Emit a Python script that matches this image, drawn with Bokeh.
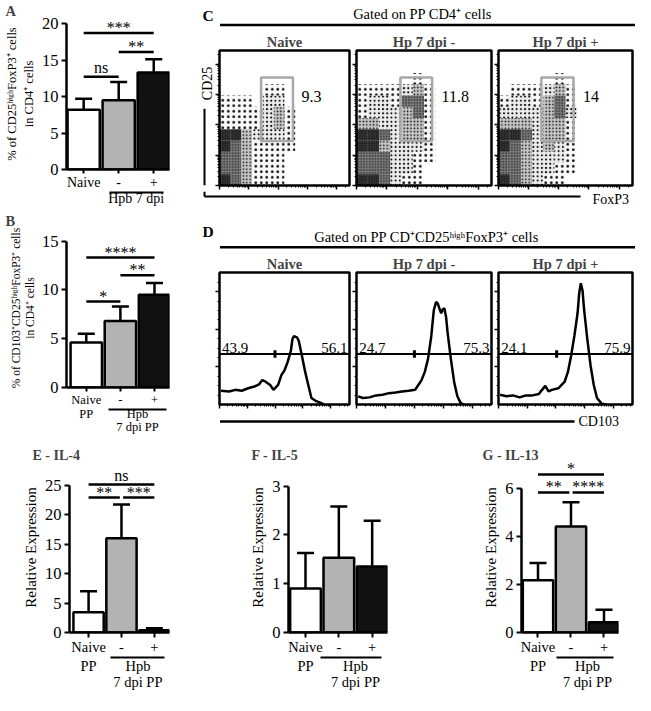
import math
from bokeh.plotting import figure
from bokeh.models import (Range1d, FixedTicker, ColumnDataSource, Whisker,
                          TeeHead, LinearAxis)
from bokeh.layouts import row, column
from bokeh.embed import file_html
from bokeh.resources import INLINE
from bokeh.core.properties import value

FONT = "Liberation Serif"

# ---------------- bar chart data ----------------
groups = ["Naive", "-", "+"]
bar_colors = ["#ffffff", "#b3b3b3", "#111111"]

a_mean = [8.2, 9.5, 13.3]
a_err = [1.5, 2.5, 1.8]
a_sig_x0 = [1, 2, 1]
a_sig_x1 = [3, 3, 2]
a_sig_y = [18.7, 16.1, 12.7]
a_sig_text = ["***", "**", "ns"]
a_group_labels = {2.5: "Hpb 7 dpi"}

b_mean = [4.6, 6.8, 9.5]
b_err = [0.9, 1.5, 1.2]
b_sig_x0 = [1, 2, 1]
b_sig_x1 = [3, 3, 2]
b_sig_y = [13.3, 11.5, 8.8]
b_sig_text = ["****", "**", "*"]
pp_group_labels = {1: "PP", 2.5: "Hpb\n7 dpi PP"}

e_mean = [3.45, 16.0, 0.4]
e_err = [3.55, 5.7, 0.3]
e_sig_x0 = [1, 1, 2.05]
e_sig_x1 = [3, 1.95, 3]
e_sig_y = [25.1, 22.9, 22.9]
e_sig_text = ["ns", "**", "***"]

f_mean = [0.9, 1.53, 1.35]
f_err = [0.73, 1.05, 0.94]

g_mean = [2.18, 4.41, 0.43]
g_err = [0.71, 1.01, 0.52]
g_sig_x0 = [1, 1, 2.05]
g_sig_x1 = [3, 1.95, 3]
g_sig_y = [6.58, 5.83, 5.83]
g_sig_text = ["*", "**", "****"]

# ---------------- flow cytometry (panel C) ----------------
c_headers = ["Naive", "Hp 7 dpi -", "Hp 7 dpi +"]
c_gate_pct = ["9.3", "11.8", "14"]
c_gate_x0 = [32.0, 32.5, 32.0]
c_gate_x1 = [56.5, 56.0, 56.0]
c_gate_y0 = [33.0, 33.0, 33.0]
c_gate_y1 = [80.0, 80.0, 80.0]
# dot density read per cell (12 x 12 grid, top row first, 0 = empty .. 5 = saturated)
c_density_naive = [
    [0, 0, 0, 0, 0, 0, 0, 0],
    [0, 0, 0, 0, 0, 0, 0, 0],
    [0, 0, 0, 0, 0, 0, 0, 0],
    [0, 0, 0, 0, 1, 1, 0, 0],
    [1, 1, 1, 0, 2, 2, 0, 0],
    [1, 1, 1, 1, 2, 3, 1, 0],
    [1, 1, 1, 1, 2, 3, 1, 0],
    [5, 5, 3, 2, 2, 2, 1, 0],
    [5, 4, 3, 1, 1, 1, 1, 0],
    [4, 4, 3, 1, 1, 1, 0, 0],
    [4, 4, 3, 1, 1, 1, 0, 0],
    [5, 4, 3, 1, 1, 1, 0, 0],
]
c_density_hp_minus = [
    [0, 0, 0, 0, 0, 0, 0, 0],
    [0, 0, 0, 0, 0, 0, 0, 0],
    [0, 0, 0, 0, 0, 1, 0, 0],
    [1, 1, 1, 1, 2, 3, 1, 0],
    [1, 2, 2, 1, 4, 4, 1, 0],
    [1, 2, 2, 2, 3, 4, 1, 0],
    [3, 3, 2, 2, 3, 3, 1, 0],
    [5, 5, 4, 2, 3, 3, 1, 0],
    [5, 5, 3, 2, 2, 2, 1, 0],
    [4, 4, 4, 2, 2, 1, 1, 0],
    [4, 4, 4, 2, 2, 1, 0, 0],
    [5, 5, 4, 2, 1, 1, 0, 0],
]
c_density_hp_plus = [
    [0, 0, 0, 0, 0, 0, 0, 0],
    [0, 0, 0, 0, 0, 0, 0, 0],
    [0, 0, 0, 0, 0, 1, 0, 0],
    [0, 1, 1, 1, 2, 3, 1, 0],
    [1, 2, 2, 1, 3, 4, 1, 0],
    [2, 2, 2, 2, 3, 4, 2, 0],
    [3, 3, 3, 2, 3, 3, 1, 0],
    [5, 5, 4, 2, 3, 3, 1, 0],
    [5, 4, 3, 2, 3, 2, 1, 0],
    [4, 4, 3, 2, 2, 2, 1, 0],
    [4, 4, 3, 2, 2, 1, 1, 0],
    [5, 4, 3, 2, 1, 1, 0, 0],
]
GRID_N = 12
DENSITY_FILL = [0.0, 0.02, 0.07, 0.22, 0.52, 0.8]
DENSITY_HATCH = [12.0, 5.5, 4.2, 3.4, 2.8, 2.4]

# ---------------- histograms (panel D) ----------------
d_headers = ["Naive", "Hp 7 dpi -", "Hp 7 dpi +"]
d_left_pct = ["43.9", "24.7", "24.1"]
d_right_pct = ["56.1", "75.3", "75.9"]
d_gate_y = 38.3
d_split_x = [42.7, 42.9, 43.4]
d_naive_x = [1.2, 7.3, 12.2, 17.1, 22.0, 26.8, 30.5, 32.9, 35.4, 39.0, 41.5, 45.1, 47.6, 50.0,
             52.4, 54.9, 56.1, 57.3, 59.8, 61.0, 63.4, 65.9, 68.3, 70.7, 74.4, 78.0, 80.5]
d_naive_y = [10.4, 9.9, 11.1, 10.4, 12.3, 13.6, 15.3, 18.5, 17.3, 14.8, 11.1, 14.8, 22.2, 25.9,
             32.1, 40.7, 49.4, 51.9, 50.6, 48.1, 37.0, 24.7, 14.8, 4.9, 2.5, 1.2, 0.0]
d_hpm_x = [1.2, 4.8, 9.6, 14.5, 19.3, 24.1, 28.9, 33.7, 38.6, 43.4, 45.8, 48.2, 50.6, 53.0, 55.4,
           57.3, 59.0, 60.2, 61.4, 62.7, 63.9, 65.1, 66.3, 67.5, 69.9, 72.3, 74.7, 77.1, 79.5]
d_hpm_y = [6.2, 4.9, 5.4, 6.9, 7.4, 8.6, 9.1, 9.9, 10.4, 11.1, 14.8, 18.5, 24.7, 34.6, 51.9,
           71.6, 77.8, 76.5, 72.8, 69.1, 72.1, 72.8, 66.7, 54.3, 34.6, 17.3, 6.2, 1.2, 0.0]
d_hpp_x = [1.2, 6.0, 10.8, 15.7, 20.5, 25.3, 30.1, 32.5, 34.9, 37.3, 39.8, 44.6, 49.4, 51.8,
           54.2, 56.6, 59.0, 60.2, 61.4, 62.7, 63.9, 66.3, 68.7, 71.1, 73.5, 77.1, 80.7]
d_hpp_y = [7.4, 6.2, 6.9, 5.4, 6.9, 6.9, 7.9, 11.1, 14.1, 9.9, 11.1, 12.3, 17.3, 24.7,
           37.0, 51.9, 69.1, 84.0, 91.9, 86.4, 71.6, 49.4, 29.6, 14.8, 4.9, 0.5, 0.0]


# ================= helpers =================
def style_axis(ax, font_px, tick_out=5):
    ax.axis_line_width = 2.5
    ax.axis_line_color = "black"
    ax.major_tick_line_width = 2
    ax.major_tick_out = tick_out
    ax.major_tick_in = 0
    ax.minor_tick_line_color = None
    ax.major_label_text_font = FONT
    ax.major_label_text_font_size = f"{font_px}px"
    ax.major_label_text_color = "black"
    ax.axis_label_text_font = FONT
    ax.axis_label_text_font_style = "normal"
    ax.axis_label_text_color = "black"


def bar_panel(w, h, bl, br, bt, bb, xr, y_end, axis_max, yticks, mean, err,
              title, title_off, title_px, ylabel, ylab_px, tick_px, xlab_px, xtick_out,
              sig, grp_labels, grp_standoff, grp_line_h, line_seg):
    p = figure(width=w, height=h, x_range=Range1d(*xr), y_range=Range1d(0, y_end),
               output_backend="svg", toolbar_location=None, title=title,
               min_border_left=bl, min_border_right=br,
               min_border_top=bt, min_border_bottom=bb)
    p.title.text_font = FONT
    p.title.text_font_style = "bold"
    p.title.text_font_size = f"{title_px}px"
    p.title.align = "left"
    p.title.offset = title_off
    if "standoff" in p.title.properties():
        p.title.standoff = 0
    p.outline_line_color = None
    p.xgrid.visible = False
    p.ygrid.visible = False
    xa = p.xaxis[0]
    ya = p.yaxis[0]
    style_axis(xa, xlab_px, xtick_out)
    style_axis(ya, tick_px)
    xa.ticker = FixedTicker(ticks=[1, 2, 3])
    xa.major_label_overrides = {1: groups[0], 2: groups[1], 3: groups[2]}
    xa.major_label_standoff = 1
    ya.ticker = FixedTicker(ticks=yticks)
    ya.bounds = (0, axis_max)
    ya.major_label_standoff = 3
    ya.axis_label = ylabel
    ya.axis_label_text_font_size = f"{ylab_px}px"
    ya.axis_label_standoff = 3

    # short line under "-" and "+"
    la = LinearAxis(ticker=FixedTicker(ticks=[]), bounds=line_seg)
    la.axis_line_width = 2
    la.axis_line_color = "black"
    la.major_tick_out = 0
    la.major_tick_in = 0
    la.minor_tick_out = 0
    la.minor_tick_in = 0
    la.major_label_text_font_size = "0px"
    la.major_label_standoff = 0
    p.add_layout(la, "below")
    # group labels below the line
    ga = LinearAxis(ticker=FixedTicker(ticks=list(grp_labels.keys())))
    ga.major_label_overrides = grp_labels
    ga.axis_line_color = None
    ga.major_tick_line_color = None
    ga.minor_tick_line_color = None
    ga.major_tick_out = 0
    ga.major_tick_in = 0
    ga.minor_tick_out = 0
    ga.minor_tick_in = 0
    ga.major_label_standoff = grp_standoff
    ga.major_label_text_font = FONT
    ga.major_label_text_font_size = f"{xlab_px}px"
    ga.major_label_text_color = "black"
    ga.major_label_text_line_height = grp_line_h
    p.add_layout(ga, "below")

    src = ColumnDataSource(dict(x=[1, 2, 3], top=mean,
                                upper=[m + e for m, e in zip(mean, err)],
                                color=bar_colors))
    p.add_layout(Whisker(source=src, base="x", lower="top", upper="upper",
                         dimension="height", line_width=2.5, line_color="black",
                         upper_head=TeeHead(size=17, line_width=2.5, line_color="black"),
                         lower_head=None))
    p.vbar(x="x", top="top", width=0.92, fill_color="color", line_color="black",
           line_width=2.5, source=src)

    if sig is not None:
        x0, x1, yy, tt = sig
        # asterisks sit high in the em box, so they are nudged down towards the bar line
        yoff = [3 if t.startswith("*") else -1 for t in tt]
        ss = ColumnDataSource(dict(x0=x0, x1=x1, y=yy,
                                   xm=[(a + b) / 2 for a, b in zip(x0, x1)], t=tt,
                                   yo=yoff))
        p.segment(x0="x0", y0="y", x1="x1", y1="y", line_width=2.5,
                  line_color="black", source=ss)
        p.text(x="xm", y="y", text="t", source=ss, text_font=value(FONT),
               text_font_size=value("16px"), text_align=value("center"),
               text_baseline=value("bottom"), y_offset="yo", text_color="black")
    return p


def log_minor(decade_w, n_dec):
    out = []
    for d in range(n_dec):
        for k in range(2, 10):
            v = d * decade_w + decade_w * math.log10(k)
            if v < 100:
                out.append(v)
    return out


def flow_box(w, h, bl, br, bt, bb, header, xticks, xminor, yticks, yminor):
    p = figure(width=w, height=h, x_range=Range1d(0, 100), y_range=Range1d(0, 100),
               output_backend="svg", toolbar_location=None, title=header,
               min_border_left=bl, min_border_right=br,
               min_border_top=bt, min_border_bottom=bb)
    p.title.align = "center"
    p.title.text_font = FONT
    p.title.text_font_style = "bold"
    p.title.text_font_size = "14.5px"
    if "standoff" in p.title.properties():
        p.title.standoff = 1
    p.outline_line_color = "black"
    p.outline_line_width = 2.5
    p.xgrid.visible = False
    p.ygrid.visible = False
    for ax, t, m in ((p.xaxis[0], xticks, xminor), (p.yaxis[0], yticks, yminor)):
        ax.ticker = FixedTicker(ticks=t, minor_ticks=m)
        ax.axis_line_color = None
        ax.major_tick_out = 4
        ax.major_tick_in = 0
        ax.major_tick_line_width = 1.5
        ax.major_tick_line_color = "black"
        ax.minor_tick_out = 2
        ax.minor_tick_in = 0
        ax.minor_tick_line_width = 1
        ax.minor_tick_line_color = "black"
        ax.major_label_text_font_size = "0px"
        ax.major_label_standoff = 0
        ax.major_label_overrides = {tk: "" for tk in t}
    return p


def deco(w, h):
    p = figure(width=w, height=h, x_range=Range1d(0, w), y_range=Range1d(0, h),
               x_axis_type=None, y_axis_type=None, output_backend="svg",
               toolbar_location=None, min_border=0)
    p.outline_line_color = None
    return p


def put_text(p, x, y, s, size, align="left", bold=False, angle=0.0):
    p.text(x=[x], y=[y], text=[s], text_font=value(FONT),
           text_font_size=value(f"{size}px"),
           text_font_style=value("bold" if bold else "normal"),
           text_align=value(align), text_baseline=value("middle"),
           angle=angle, text_color="black")


def put_line(p, xs0, ys0, xs1, ys1, lw=2.5):
    p.segment(x0=xs0, y0=ys0, x1=xs1, y1=ys1, line_width=lw, line_color="black")


# ================= panels A & B =================
pA = bar_panel(200, 208, 66, 31, 16, 37, (0.51, 3.45), 20.69, 20, [0, 5, 10, 15, 20],
               a_mean, a_err, "A", -61, 14.5,
               "% of CD25ʰⁱᵍʰFoxP3⁺ cells\nin CD4⁺ cells", 12.5, 16.5, 14, 4,
               (a_sig_x0, a_sig_x1, a_sig_y, a_sig_text),
               a_group_labels, -2, 1.0, (1.75, 3.28))

pB = bar_panel(200, 228, 66, 31, 20, 44, (0.42, 3.44), 16.28, 15, [0, 5, 10, 15],
               b_mean, b_err, "B", -61, 14.5,
               "% of CD103⁺CD25ʰⁱᵍʰFoxP3⁺ cells\nin CD4⁺ cells", 11.5, 16.5, 12.5, 4,
               (b_sig_x0, b_sig_x1, b_sig_y, b_sig_text),
               pp_group_labels, -3, 0.95, (1.65, 3.35))

# ================= panel C =================
c_xt = [0, 22.5, 45, 67.5, 90]
c_xm = log_minor(22.5, 5)
c_yt = [0, 22.5, 45, 67.5, 90]
c_ym = log_minor(22.5, 5)

c_hdr = deco(435, 31)
put_text(c_hdr, 2, 16, "C", 15.5, bold=True)
put_text(c_hdr, 222, 17.5, "Gated on PP CD4⁺ cells", 14.5, align="center")
put_line(c_hdr, [19.5], [6.5], [435], [6.5])

lead_c = deco(14, 160)
put_text(lead_c, 7, 121, "CD25", 14, align="center", angle=math.pi / 2)
put_line(lead_c, [4], [0], [4], [91], lw=2)

c_dens = [c_density_naive, c_density_hp_minus, c_density_hp_plus]
c_geom = [(137, 5, 2), (142, 5, 2), (142, 5, 3)]
c_boxes = []
cell = 100.0 / GRID_N
for i in range(3):
    w, bl, br = c_geom[i]
    p = flow_box(w, 160, bl, br, 18, 6, c_headers[i], c_xt, c_xm, c_yt, c_ym)
    xs, ys, fa, hs = [], [], [], []
    for r, vals in enumerate(c_dens[i]):
        for c, v in enumerate(vals):
            if v:
                xs.append((c + 0.5) * cell)
                ys.append(100 - (r + 0.5) * cell)
                fa.append(DENSITY_FILL[v])
                hs.append(DENSITY_HATCH[v])
    p.rect(x="x", y="y", width=cell, height=cell, fill_color="black", fill_alpha="fa",
           hatch_pattern=value("dot"), hatch_color="black", hatch_scale="hs",
           hatch_weight=0.6, hatch_alpha=0.95, line_color=None,
           source=ColumnDataSource(dict(x=xs, y=ys, fa=fa, hs=hs)))
    p.quad(left=[c_gate_x0[i]], right=[c_gate_x1[i]], bottom=[c_gate_y0[i]],
           top=[c_gate_y1[i]], fill_color=None, line_color="#a8a8a8", line_width=2.5)
    p.text(x=[63], y=[66], text=[c_gate_pct[i]], text_font=value(FONT),
           text_font_size=value("16px"), text_align=value("left"),
           text_baseline=value("middle"), text_color="black")
    c_boxes.append(p)

c_ftr = deco(435, 14)
put_line(c_ftr, [4, 4], [14, 9], [4, 380], [9, 9], lw=2)
put_text(c_ftr, 392, 6.5, "FoxP3", 14)

# ================= panel D =================
d_xt = [0, 21.4, 42.8, 64.2, 85.6]
d_xm = log_minor(21.4, 5)
d_yt = [28.5, 57, 85.5]
d_ym = [7.1, 14.2, 21.3, 35.6, 42.7, 49.8, 64.1, 71.2, 78.3, 92.6]

d_hdr = deco(435, 47)
put_text(d_hdr, 2, 21, "D", 15.5, bold=True)
put_text(d_hdr, 226, 16, "Gated on PP CD⁺CD25ʰⁱᵍʰFoxP3⁺ cells", 14.5, align="center")
put_line(d_hdr, [19.5], [5.3], [435], [5.3])

d_hx = [d_naive_x, d_hpm_x, d_hpp_x]
d_hy = [d_naive_y, d_hpm_y, d_hpp_y]
d_geom = [(151, 19, 2), (142, 5, 2), (142, 5, 3)]
d_boxes = []
for i in range(3):
    w, bl, br = d_geom[i]
    p = flow_box(w, 158, bl, br, 20, 6, d_headers[i], d_xt, d_xm, d_yt, d_ym)
    p.line(x=d_hx[i], y=d_hy[i], line_width=2.5, line_color="black")
    p.segment(x0=[0], y0=[d_gate_y], x1=[100], y1=[d_gate_y], line_width=2,
              line_color="black")
    p.segment(x0=[d_split_x[i]], y0=[d_gate_y - 2.8], x1=[d_split_x[i]],
              y1=[d_gate_y + 2.8], line_width=3, line_color="black")
    p.text(x=[2], y=[d_gate_y + 1], text=[d_left_pct[i]], text_font=value(FONT),
           text_font_size=value("15px"), text_align=value("left"),
           text_baseline=value("bottom"), text_color="black")
    p.text(x=[98.5], y=[d_gate_y + 1], text=[d_right_pct[i]], text_font=value(FONT),
           text_font_size=value("15px"), text_align=value("right"),
           text_baseline=value("bottom"), text_color="black")
    d_boxes.append(p)

d_ftr = deco(435, 26)
put_line(d_ftr, [19.5], [15], [374], [15], lw=2.5)
put_text(d_ftr, 378, 15, "CD103", 14)

# ================= panels E, F, G =================
pE = bar_panel(210, 257, 69, 41, 26, 59, (0.42, 3.46), 28.84, 25, [0, 5, 10, 15, 20, 25],
               e_mean, e_err, "E - IL-4", -37, 14,
               "Relative Expression", 15, 16.5, 14.5, 5,
               (e_sig_x0, e_sig_x1, e_sig_y, e_sig_text),
               pp_group_labels, 0, 1.05, (1.67, 3.3))

pF = bar_panel(210, 257, 78, 33, 26, 59, (0.49, 3.46), 3.482, 3, [0, 1, 2, 3],
               f_mean, f_err, "F - IL-5", -37, 14,
               "Relative Expression", 15, 16.5, 14.5, 5,
               None,
               pp_group_labels, 0, 1.05, (1.45, 3.28))

pG = bar_panel(215, 257, 101, 17, 26, 59, (0.5, 3.44), 7.078, 6, [0, 2, 4, 6],
               g_mean, g_err, "G - IL-13", -39, 14,
               "Relative Expression", 15, 16.5, 14.5, 5,
               (g_sig_x0, g_sig_x1, g_sig_y, g_sig_text),
               pp_group_labels, 0, 1.05, (1.55, 3.3))

# ================= layout =================
left_col = column(pA, pB)
right_col = column(c_hdr, row(lead_c, *c_boxes), c_ftr,
                   d_hdr, row(*d_boxes), d_ftr)
layout = column(row(left_col, right_col), row(pE, pF, pG))

open("out.html", "w").write(file_html(layout, INLINE))
